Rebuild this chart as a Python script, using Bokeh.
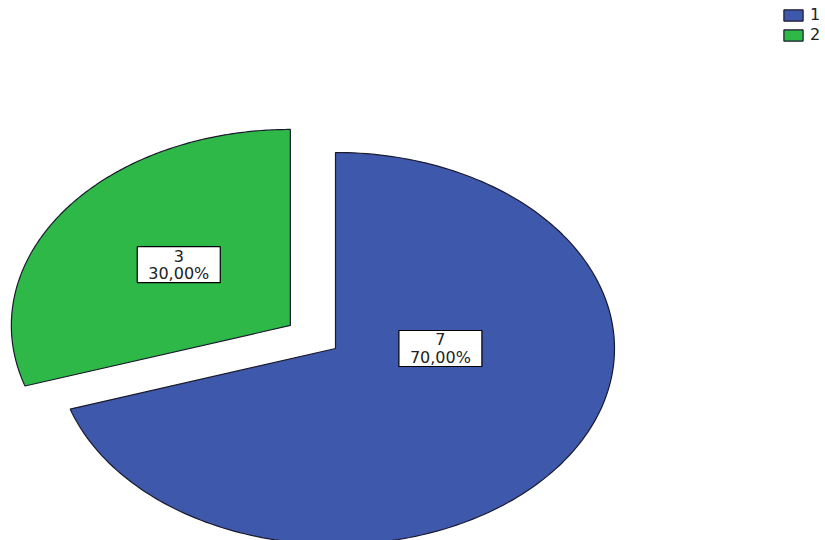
import numpy as np
from bokeh.plotting import figure
from bokeh.models import Range1d, Legend, LegendItem, ColumnDataSource
from bokeh.core.properties import value
from bokeh.embed import file_html
from bokeh.resources import INLINE

# ---- data ----
categories = ["1", "2"]
counts = [7, 3]
percent_labels = ["70,00%", "30,00%"]
colors = ["#3E58AC", "#2EB848"]
exploded = [False, True]

W, H = 825, 540
# pixel geometry of the (stretched) pie
RX, RY = 279.0, 196.0
CX, CY = 335.0, 348.0
EXPLODE = 0.2

p = figure(width=W, height=H, output_backend="svg", toolbar_location=None,
           x_range=Range1d(-CX / RX, (W - CX) / RX),
           y_range=Range1d(-(H - CY) / RY, CY / RY),
           min_border=0, outline_line_color=None)
p.axis.visible = False
p.grid.visible = False
p.background_fill_color = "white"
p.border_fill_color = "white"

total = float(sum(counts))
start = np.pi / 2
xs, ys, mids, offs = [], [], [], []
for c, ex in zip(counts, exploded):
    sweep = 2 * np.pi * c / total
    a0, a1 = start - sweep, start
    t = np.linspace(a0, a1, 200)
    mid = (a0 + a1) / 2
    ox = EXPLODE * np.cos(mid) if ex else 0.0
    oy = EXPLODE * np.sin(mid) if ex else 0.0
    xs.append(list(np.concatenate([[ox], ox + np.cos(t), [ox]])))
    ys.append(list(np.concatenate([[oy], oy + np.sin(t), [oy]])))
    mids.append(mid)
    offs.append((ox, oy))
    start = a0

renderers = []
for i in range(len(counts)):
    r = p.patch(xs[i], ys[i], fill_color=colors[i], line_color="#1a1a2e",
                line_width=1.2)
    renderers.append(r)

# label anchors (relative to each slice's own centre, in unit radius)
label_pos = [(0.376, 0.0), (-0.40, 0.31)]
lx = [offs[i][0] + label_pos[i][0] for i in range(len(counts))]
ly = [offs[i][1] + label_pos[i][1] for i in range(len(counts))]
txt = [f"{counts[i]}\n{percent_labels[i]}" for i in range(len(counts))]
src = ColumnDataSource(dict(x=lx, y=ly, t=txt))
p.rect(x="x", y="y", width=83, height=36, width_units="screen",
       height_units="screen", source=src, fill_color="white",
       line_color="black", line_width=1.2)
p.text(x="x", y="y", text="t", source=src, text_align="center",
       text_baseline="middle", text_font=value("DejaVu Sans"),
       text_font_size="16px", text_color="#222222", text_line_height=0.9)

legend = Legend(items=[LegendItem(label=categories[i], renderers=[renderers[i]])
                       for i in range(len(counts))],
                location=(781, H - 44), orientation="vertical",
                glyph_width=24, glyph_height=14, label_height=14,
                spacing=1, padding=0, margin=0, label_standoff=5,
                label_text_font="DejaVu Sans",
                label_text_font_size="16px", label_text_color="#222222",
                border_line_alpha=0, background_fill_alpha=0)
p.add_layout(legend, "center")

open("out.html", "w").write(file_html(p, INLINE))
